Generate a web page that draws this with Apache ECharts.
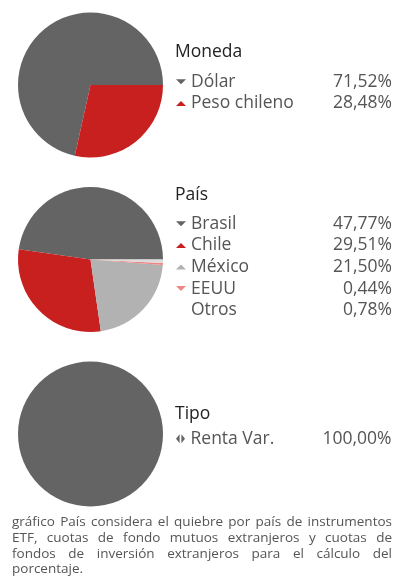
<!DOCTYPE html>
<html>
<head>
<meta charset="utf-8">
<script src="https://cdn.jsdelivr.net/npm/echarts@6/dist/echarts.min.js"></script>
<style>
  html, body { margin: 0; padding: 0; background: #fff; }
  #wrap { position: relative; width: 394px; height: 584px; overflow: hidden; }
  #chart { position: absolute; left: 0; top: 0; width: 394px; height: 584px; }
  #note {
    position: absolute; left: 12px; top: 514px; width: 380px;
    font-family: "Open Sans", sans-serif; font-size: 13.5px; line-height: 15.8px;
    color: #555;
  }
  #note div { white-space: nowrap; text-align: justify; text-align-last: justify; }
  #note div:last-child { text-align-last: left; }
</style>
</head>
<body>
<div id="wrap">
  <div id="chart"></div>
  <div id="note">
    <div>gráfico País considera el quiebre por país de instrumentos</div>
    <div>ETF, cuotas de fondo mutuos extranjeros y cuotas de</div>
    <div>fondos de inversión extranjeros para el cálculo del</div>
    <div>porcentaje.</div>
  </div>
</div>
<script>
// Composition by currency
var monedaTitle = 'Moneda';
var monedaNames = ['Dólar', 'Peso chileno'];
var monedaValues = [71.52, 28.48];

// Composition by country
var paisTitle = 'País';
var paisNames = ['Brasil', 'Chile', 'México', 'EEUU', 'Otros'];
var paisValues = [47.77, 29.51, 21.50, 0.44, 0.78];

// Composition by asset type
var tipoTitle = 'Tipo';
var tipoNames = ['Renta Var.'];
var tipoValues = [100.00];

var DARK = '#646464', RED = '#c81f1f', LIGHT = '#b2b2b2', PINK = '#f08585', PALE = '#dcdcdc';

var ICON_DOWN = 'path://M0,0L10,0L5,5Z';
var ICON_UP = 'path://M5,0L10,5L0,5Z';
var ICON_SPLIT = 'path://M0,5L4,0L4,10Z M6,0L10,5L6,10Z';

var groups = [
  { title: monedaTitle, names: monedaNames, values: monedaValues,
    colors: [DARK, RED], icons: [ICON_DOWN, ICON_UP],
    cy: 85, titleTop: 43, legendTop: 71 },
  { title: paisTitle, names: paisNames, values: paisValues,
    colors: [DARK, RED, LIGHT, PINK, PALE], icons: [ICON_DOWN, ICON_UP, ICON_UP, ICON_DOWN, 'none'],
    cy: 259.5, titleTop: 186, legendTop: 213 },
  { title: tipoTitle, names: tipoNames, values: tipoValues,
    colors: [DARK], icons: [ICON_SPLIT],
    cy: 434, titleTop: 405, legendTop: 428 }
];

function fmt(v) {
  return v.toFixed(2).replace('.', ',') + '%';
}

var valueByName = {};
groups.forEach(function (g) {
  g.names.forEach(function (n, i) { valueByName[n] = g.values[i]; });
});

var FONT = '"Open Sans", sans-serif';
var FS = 17.5;

var option = {
  animation: false,
  title: groups.map(function (g) {
    return {
      text: g.title, left: 175, top: g.titleTop, padding: 0,
      textStyle: { fontFamily: FONT, fontSize: 17.5, fontWeight: 500, color: '#222' }
    };
  }),
  legend: groups.map(function (g) {
    return {
      orient: 'vertical', left: 176, top: g.legendTop, padding: 0,
      itemGap: 0, itemWidth: 10, itemHeight: g.icons[0] === ICON_SPLIT ? 9 : 5,
      selectedMode: false,
      data: g.names.map(function (n, i) { return { name: n, icon: g.icons[i] }; }),
      formatter: function (name) {
        return '{n|' + name + '}{v|' + fmt(valueByName[name]) + '}';
      },
      textStyle: {
        fontFamily: FONT, fontSize: FS, color: '#555', lineHeight: 21.6,
        rich: {
          n: { width: 121, fontFamily: FONT, fontSize: FS, color: '#555', lineHeight: 21.6 },
          v: { width: 80, align: 'right', fontFamily: FONT, fontSize: FS, color: '#555', lineHeight: 21.6 }
        }
      }
    };
  }),
  series: groups.map(function (g) {
    return {
      type: 'pie', center: [90.5, g.cy], radius: 72.5,
      startAngle: 0, clockwise: false,
      label: { show: false }, labelLine: { show: false },
      emphasis: { disabled: true },
      data: g.names.map(function (n, i) {
        return { name: n, value: g.values[i], itemStyle: { color: g.colors[i] } };
      })
    };
  })
};

var chart = echarts.init(document.getElementById('chart'), null, { renderer: 'canvas' });
chart.setOption(option);
</script>
</body>
</html>
